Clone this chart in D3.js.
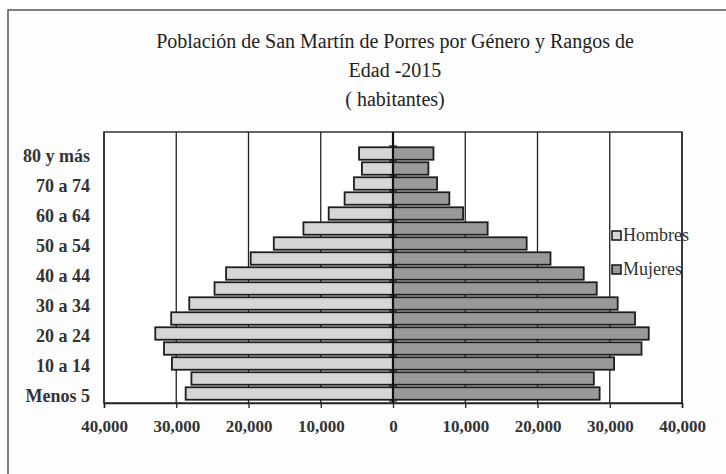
<!DOCTYPE html>
<html>
<head>
<meta charset="utf-8">
<script src="https://cdn.jsdelivr.net/npm/d3@7"></script>
<style>
  body { margin: 0; background: #ffffff; }
  svg { display: block; }
</style>
</head>
<body>
<script>
// Width and Height
var w = 726;
var h = 474;

// data, from bottom to top
var edades = ["Menos 5", "5 a 9", "10 a 14", "15 a 19", "20 a 24", "25 a 29", "30 a 34",
              "35 a 39", "40 a 44", "45 a 49", "50 a 54", "55 a 59", "60 a 64", "65 a 69",
              "70 a 74", "75 a 79", "80 y más"];
var hombres = [28700, 27900, 30600, 31700, 32900, 30700, 28200, 24700, 23100,
               19700, 16500, 12400, 8900, 6700, 5400, 4300, 4700];
var mujeres = [28600, 27800, 30600, 34400, 35400, 33500, 31100, 28200, 26400,
               21800, 18500, 13100, 9700, 7800, 6100, 4900, 5600];
var xTicks = [-40000, -30000, -20000, -10000, 0, 10000, 20000, 30000, 40000];
var series = ["Hombres", "Mujeres"];
var titulo = ["Población de San Martín de Porres por Género y Rangos de",
              "Edad -2015",
              "( habitantes)"];

var serif = "'Liberation Serif', 'Times New Roman', serif";
var colores = {Hombres: "#d6d6d6", Mujeres: "#999999"};

var plotTop = 132, plotBottom = 403, plotLeft = 104, plotRight = 682;

var svg = d3.select("body")
            .append("svg")
            .attr("width", w)
            .attr("height", h);

// outer chart frame
svg.append("rect")
    .attr("x", 8)
    .attr("y", 10)
    .attr("width", 740)
    .attr("height", 480)
    .attr("fill", "#fdfdfd")
    .attr("stroke", "#555")
    .attr("stroke-width", 1.5);

// title
svg.selectAll("text.titulo")
    .data(titulo)
    .enter()
    .append("text")
    .attr("class", "titulo")
    .attr("x", 395)
    .attr("y", function(d, i) {
        return 48 + i * 29;
    })
    .attr("text-anchor", "middle")
    .attr("font-family", serif)
    .attr("font-size", "20px")
    .attr("fill", "#222")
    .text(function(d) { return d; });

var x = d3.scaleLinear()
          .domain([-40000, 40000])
          .range([plotLeft, plotRight]);

var y = d3.scaleBand()
          .domain(edades.slice().reverse())
          .range([146, 401])
          .paddingInner(0.17)
          .paddingOuter(0.085);

// plot area
svg.append("rect")
    .attr("x", plotLeft)
    .attr("y", plotTop)
    .attr("width", plotRight - plotLeft)
    .attr("height", plotBottom - plotTop)
    .attr("fill", "#ffffff")
    .attr("stroke", "#333")
    .attr("stroke-width", 1.5);

// vertical gridlines
svg.selectAll("line.grid")
    .data(xTicks)
    .enter()
    .append("line")
    .attr("class", "grid")
    .attr("x1", function(d) { return x(d); })
    .attr("x2", function(d) { return x(d); })
    .attr("y1", plotTop)
    .attr("y2", plotBottom)
    .attr("stroke", "#222")
    .attr("stroke-width", 1.3);

var filas = edades.map(function(e, i) {
    return {edad: e, Hombres: hombres[i], Mujeres: mujeres[i]};
});

// hombres go to the left
svg.selectAll("rect.hombres")
    .data(filas)
    .enter()
    .append("rect")
    .attr("class", "hombres")
    .attr("x", function(d) { return x(-d.Hombres); })
    .attr("y", function(d) { return y(d.edad); })
    .attr("width", function(d) { return x(0) - x(-d.Hombres); })
    .attr("height", y.bandwidth())
    .attr("fill", colores.Hombres)
    .attr("stroke", "#1e1e1e")
    .attr("stroke-width", 1.8);

// mujeres go to the right
svg.selectAll("rect.mujeres")
    .data(filas)
    .enter()
    .append("rect")
    .attr("class", "mujeres")
    .attr("x", x(0))
    .attr("y", function(d) { return y(d.edad); })
    .attr("width", function(d) { return x(d.Mujeres) - x(0); })
    .attr("height", y.bandwidth())
    .attr("fill", colores.Mujeres)
    .attr("stroke", "#1e1e1e")
    .attr("stroke-width", 1.8);

// x axis
var xAxis = d3.axisBottom(x)
              .tickValues(xTicks)
              .tickSize(5)
              .tickFormat(function(d) { return d3.format(",")(Math.abs(d)); });

var gx = svg.append("g")
    .attr("transform", "translate(0," + plotBottom + ")")
    .call(xAxis);

gx.select(".domain").attr("stroke", "#222").attr("stroke-width", 1.5);
gx.selectAll(".tick line").attr("stroke", "#222").attr("stroke-width", 1.3);
gx.selectAll(".tick text")
    .attr("y", 17)
    .attr("font-family", serif)
    .attr("font-size", "17px")
    .attr("font-weight", "bold")
    .attr("fill", "#333");

// zero line
svg.append("line")
    .attr("x1", x(0))
    .attr("x2", x(0))
    .attr("y1", plotTop)
    .attr("y2", plotBottom)
    .attr("stroke", "#111")
    .attr("stroke-width", 2.2);

// little marks between the categories
var cortes = d3.range(edades.length + 1).map(function(i) {
    return 146 + i * y.step();
});

svg.selectAll("line.marca")
    .data(cortes)
    .enter()
    .append("line")
    .attr("class", "marca")
    .attr("x1", x(0) - 4)
    .attr("x2", x(0) + 4)
    .attr("y1", function(d) { return d; })
    .attr("y2", function(d) { return d; })
    .attr("stroke", "#111")
    .attr("stroke-width", 1.2);

// category labels, every second one
svg.selectAll("text.edad")
    .data(edades.filter(function(d, i) { return i % 2 == 0; }))
    .enter()
    .append("text")
    .attr("class", "edad")
    .attr("x", 90)
    .attr("y", function(d) { return y(d) + y.bandwidth() / 2 + 8; })
    .attr("text-anchor", "end")
    .attr("font-family", serif)
    .attr("font-size", "18px")
    .attr("font-weight", "bold")
    .attr("fill", "#333")
    .text(function(d) { return d; });

// legend
var leyenda = svg.selectAll("g.leyenda")
    .data(series)
    .enter()
    .append("g")
    .attr("class", "leyenda")
    .attr("transform", function(d, i) {
        return "translate(612," + (231 + i * 34) + ")";
    });

leyenda.append("rect")
    .attr("width", 9)
    .attr("height", 9)
    .attr("fill", function(d) { return colores[d]; })
    .attr("stroke", "#111")
    .attr("stroke-width", 1.5);

leyenda.append("text")
    .attr("x", 11)
    .attr("y", 10)
    .attr("font-family", serif)
    .attr("font-size", "18px")
    .attr("fill", "#333")
    .text(function(d) { return d; });
</script>
</body>
</html>
